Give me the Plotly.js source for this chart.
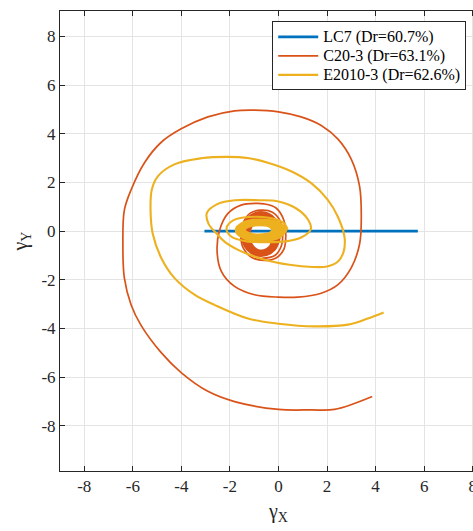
<!DOCTYPE html>
<html>
<head>
<meta charset="utf-8">
<script src="https://cdn.plot.ly/plotly-3.0.1.min.js"></script>
<style>
html,body{margin:0;padding:0;overflow:hidden;background:#fff;}
#chart{width:500px;height:531px;}
</style>
</head>
<body>
<div id="chart"></div>
<script>
// ---- data ----
var seriesNames = ['LC7 (Dr=60.7%)', 'C20-3 (Dr=63.1%)', 'E2010-3 (Dr=62.6%)'];

var lc7X = [-3.05, -2.5, -2.0, -1.5, -1.0, -0.5, 0.0, 0.5, 1.0, 1.5, 2.0, 2.5, 3.0, 3.5, 4.0, 4.5, 5.0, 5.5, 5.74];
var lc7Y = [0.0, 0.0, 0.01, 0.0, -0.01, 0.0, 0.01, 0.0, -0.01, 0.0, 0.0, 0.01, 0.0, -0.01, 0.0, 0.0, 0.01, 0.0, 0.0];

var c20X = [-0.70, -0.15, 0.12, 0.17, 0.08, -0.25, -0.70, -1.15, -1.45, -1.55, -1.45, -1.10, -0.60, -0.10, 0.22, 0.30, 0.22, -0.10, -0.60, -0.90, -1.54, -2.09, -2.43, -2.53, -2.36, -1.81, -0.99, 0.00, 0.80, 1.76, 2.45, 3.00, 3.34, 3.41, 3.34, 3.00, 2.45, 1.76, 0.93, 0.00, -0.99, -1.81, -2.91, -4.01, -4.84, -5.52, -6.07, -6.35, -6.41, -6.35, -6.07, -5.66, -4.84, -4.01, -2.91, -1.81, 0.00, 1.35, 2.31, 3.86];
var c20Y = [-1.12, -1.00, -0.60, -0.10, 0.40, 0.78, 0.86, 0.75, 0.35, -0.20, -0.70, -1.08, -1.20, -1.10, -0.75, -0.20, 0.45, 0.95, 1.12, 1.14, 1.07, 0.72, 0.03, -0.81, -1.64, -2.27, -2.61, -2.71, -2.71, -2.55, -2.20, -1.50, -0.53, 0.58, 1.84, 2.95, 3.78, 4.34, 4.69, 4.90, 4.97, 4.94, 4.69, 4.20, 3.64, 2.81, 1.70, 0.86, -0.53, -1.92, -3.03, -3.87, -4.98, -5.81, -6.58, -7.00, -7.32, -7.34, -7.32, -6.79];

// dense core of C20-3 (repeated small loops)
var c20CoreX = [-0.12, -0.29, -0.70, -1.11, -1.28, -1.11, -0.70, -0.29, -0.12, -0.06, -0.25, -0.71, -1.17, -1.36, -1.17, -0.71, -0.25, -0.06, 0.00, -0.21, -0.72, -1.23, -1.44, -1.23, -0.72, -0.21, 0.00];
var c20CoreY = [-0.18, 0.31, 0.52, 0.31, -0.18, -0.67, -0.88, -0.67, -0.18, -0.15, 0.38, 0.61, 0.38, -0.15, -0.68, -0.91, -0.68, -0.15, -0.12, 0.46, 0.70, 0.46, -0.12, -0.70, -0.94, -0.70, -0.12];

var e2010X = [0.38, 0.20, -0.40, -1.20, -1.85, -2.14, -1.95, -1.30, -0.50, 0.30, 0.95, 1.33, 1.20, 0.70, 0.00, -0.80, -1.80, -2.50, -2.95, -2.88, -2.55, -2.20, -1.60, -0.65, 0.45, 1.40, 2.00, 2.45, 2.68, 2.72, 2.45, 2.03, 1.35, 0.52, -0.44, -1.26, -2.09, -3.19, -4.29, -4.97, -5.22, -5.27, -5.18, -4.84, -4.29, -3.46, -2.64, -1.26, 0.00, 1.48, 2.86, 3.68, 4.33];
var e2010Y = [0.05, 0.35, 0.55, 0.58, 0.45, 0.12, -0.22, -0.42, -0.45, -0.42, -0.25, 0.08, 0.50, 0.95, 1.22, 1.27, 1.27, 1.12, 0.75, 0.30, -0.10, -0.45, -0.80, -1.15, -1.38, -1.47, -1.45, -1.25, -0.85, -0.25, 0.58, 1.28, 1.97, 2.46, 2.81, 3.00, 3.05, 2.99, 2.74, 2.25, 1.70, 0.86, -0.11, -1.08, -1.92, -2.61, -3.03, -3.59, -3.80, -3.91, -3.84, -3.59, -3.34];

// dense core of E2010-3
var e2010CoreX = [-0.15, -0.34, -0.80, -1.26, -1.45, -1.26, -0.80, -0.34, -0.15, 0.04, -0.19, -0.76, -1.33, -1.56, -1.33, -0.76, -0.19, 0.04, 0.26, -0.03, -0.72, -1.41, -1.70, -1.41, -0.72, -0.03, 0.26];
var e2010CoreY = [0.05, 0.23, 0.30, 0.23, 0.05, -0.13, -0.20, -0.13, 0.05, 0.02, 0.23, 0.32, 0.23, 0.02, -0.19, -0.28, -0.19, 0.02, 0.04, 0.31, 0.42, 0.31, 0.04, -0.23, -0.34, -0.23, 0.04];

var tickVals = [-8, -6, -4, -2, 0, 2, 4, 6, 8];
var tickText = ['-8', '-6', '-4', '-2', '0', '2', '4', '6', '8'];

// ---- styling ----
var colBlue = '#0072BD', colOrange = '#D95319', colYellow = '#EDB120';
var fontFam = 'Liberation Serif, Times New Roman, serif';
var axisCol = '#262626';

function legendLabel(s) { return '<span style="font-size:16px">' + s + '</span>'; }

var traces = [
  {x: lc7X, y: lc7Y, name: legendLabel(seriesNames[0]), mode: 'lines', line: {color: colBlue, width: 2.8}},
  {x: c20X, y: c20Y, name: legendLabel(seriesNames[1]), mode: 'lines', line: {color: colOrange, width: 1.7, shape: 'spline', smoothing: 1}},
  {x: c20CoreX, y: c20CoreY, name: seriesNames[1], mode: 'lines', showlegend: false, line: {color: colOrange, width: 6, shape: 'spline', smoothing: 1}},
  {x: e2010X, y: e2010Y, name: legendLabel(seriesNames[2]), mode: 'lines', line: {color: colYellow, width: 2.1, shape: 'spline', smoothing: 1}},
  {x: e2010CoreX, y: e2010CoreY, name: seriesNames[2], mode: 'lines', showlegend: false, line: {color: colYellow, width: 5, shape: 'spline', smoothing: 1}}
];

function axisBase() {
  return {
    tickmode: 'array', tickvals: tickVals, ticktext: tickText,
    ticks: 'inside', ticklen: 5, tickwidth: 1, tickcolor: axisCol,
    showline: true, linecolor: axisCol, linewidth: 1, mirror: 'ticks',
    showgrid: true, gridcolor: '#e4e4e4', gridwidth: 1,
    zeroline: false,
    tickfont: {family: fontFam, size: 17, color: axisCol},
    automargin: false, fixedrange: true
  };
}

var xa = axisBase();
xa.range = [-9, 9];
xa.title = {text: 'γ<sub>X</sub>', font: {family: fontFam, size: 20, color: axisCol}, standoff: 8};
var ya = axisBase();
ya.range = [-9.85, 9.04];
ya.title = {text: 'γ<sub>Y</sub>', font: {family: fontFam, size: 20, color: axisCol}, standoff: 8};

var layout = {
  width: 500, height: 531,
  margin: {l: 60, r: 3, t: 11, b: 60.3},
  paper_bgcolor: '#ffffff', plot_bgcolor: '#ffffff',
  xaxis: xa, yaxis: ya,
  showlegend: true,
  legend: {
    x: 0.4856, y: 0.9774, xanchor: 'left', yanchor: 'top',
    bgcolor: '#ffffff', bordercolor: axisCol, borderwidth: 1,
    font: {family: fontFam, size: 12, color: '#000000'},
    itemwidth: 40, tracegroupgap: 0
  }
};

Plotly.newPlot('chart', traces, layout, {displayModeBar: false, staticPlot: true});
</script>
</body>
</html>
